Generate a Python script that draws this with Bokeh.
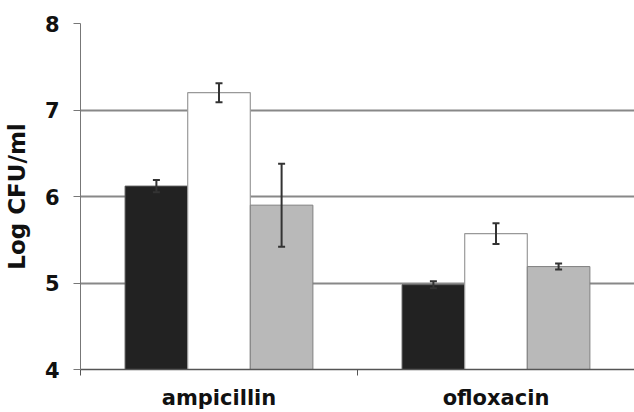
from bokeh.plotting import figure
from bokeh.models import ColumnDataSource, Range1d, FixedTicker, Whisker, TeeHead
from bokeh.transform import dodge
from bokeh.embed import file_html
from bokeh.resources import INLINE

categories = ["ampicillin", "ofloxacin"]
cat_pos = [0.5, 1.5]
series_a = [6.12, 4.98]   # black
series_b = [7.20, 5.57]   # white
series_c = [5.90, 5.19]   # hatched
err_a = [0.07, 0.04]
err_b = [0.11, 0.12]
err_c = [0.48, 0.035]
y_ticks = [4, 5, 6, 7, 8]

FONT = "DejaVu Sans"
BW = 0.226

p = figure(width=634, height=412, output_backend="svg", toolbar_location=None,
           x_range=Range1d(0, 2), y_range=Range1d(4, 8),
           min_border_left=80, min_border_right=0, min_border_top=23, min_border_bottom=41)
p.outline_line_color = None
p.background_fill_color = "white"
p.border_fill_color = "white"

def src(vals, errs):
    return ColumnDataSource(dict(x=cat_pos, top=vals,
                                 upper=[v + e for v, e in zip(vals, errs)],
                                 lower=[v - e for v, e in zip(vals, errs)]))

sa, sb, sc = src(series_a, err_a), src(series_b, err_b), src(series_c, err_c)

p.vbar(x=dodge("x", -BW, range=p.x_range), top="top", bottom=4, width=BW, source=sa,
       fill_color="#222222", line_color="#555555", line_width=1)
p.vbar(x=dodge("x", 0, range=p.x_range), top="top", bottom=4, width=BW, source=sb,
       fill_color="white", line_color="#999999", line_width=1.2)
p.vbar(x=dodge("x", BW, range=p.x_range), top="top", bottom=4, width=BW, source=sc,
       fill_color="#b9b9b9", line_color="#808080", line_width=1,
       hatch_pattern="checker", hatch_color="#8a8a8a", hatch_scale=6, hatch_alpha=1.0)

for s, off in ((sa, -BW), (sb, 0), (sc, BW)):
    w = Whisker(base=dodge("x", off, range=p.x_range), upper="upper", lower="lower", source=s,
                level="overlay", line_color="#333333", line_width=2,
                upper_head=TeeHead(size=7, line_color="#333333", line_width=2),
                lower_head=TeeHead(size=7, line_color="#333333", line_width=2))
    p.add_layout(w)

# y axis
p.yaxis.ticker = FixedTicker(ticks=y_ticks)
p.yaxis.axis_label = "Log CFU/ml"
p.yaxis.axis_label_text_font = FONT
p.yaxis.axis_label_text_font_style = "bold"
p.yaxis.axis_label_text_font_size = "23px"
p.yaxis.axis_label_text_color = "#111111"
p.yaxis.axis_label_standoff = 12
p.yaxis.major_label_text_font = FONT
p.yaxis.major_label_text_font_style = "bold"
p.yaxis.major_label_text_font_size = "21px"
p.yaxis.major_label_text_color = "#111111"
p.yaxis.major_label_standoff = 14
p.yaxis.major_tick_in = 0
p.yaxis.major_tick_out = 7
p.yaxis.minor_tick_line_color = None
p.yaxis.axis_line_color = "#777777"
p.yaxis.major_tick_line_color = "#777777"

# x axis
p.xaxis.ticker = FixedTicker(ticks=cat_pos, minor_ticks=[0, 1, 2])
p.xaxis.major_label_overrides = {cat_pos[0]: categories[0], cat_pos[1]: categories[1]}
p.xaxis.major_label_text_font = FONT
p.xaxis.major_label_text_font_style = "bold"
p.xaxis.major_label_text_font_size = "21px"
p.xaxis.major_label_text_color = "#111111"
p.xaxis.major_label_standoff = 10
p.xaxis.major_tick_line_color = None
p.xaxis.minor_tick_in = 0
p.xaxis.minor_tick_out = 6
p.xaxis.minor_tick_line_color = "#555555"
p.xaxis.axis_line_color = "#555555"
p.xaxis.axis_line_width = 1.5

p.xgrid.grid_line_color = None
p.ygrid.ticker = FixedTicker(ticks=y_ticks)
p.ygrid.grid_line_color = "#888888"
p.ygrid.grid_line_width = 2

open("out.html", "w").write(file_html(p, INLINE))
